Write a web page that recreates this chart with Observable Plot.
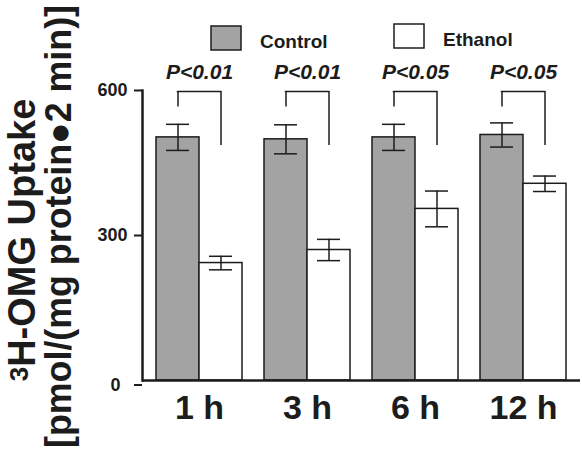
<!DOCTYPE html>
<html>
<head>
<meta charset="utf-8">
<script src="https://cdn.jsdelivr.net/npm/d3@7"></script>
<script src="https://cdn.jsdelivr.net/npm/@observablehq/plot@0.6"></script>
<style>
  html, body { margin: 0; padding: 0; background: #fff; }
  #chart { width: 582px; height: 451px; }
</style>
</head>
<body>
<div id="chart"></div>
<script>
// ---- data ----
const times = ["1 h", "3 h", "6 h", "12 h"];
const series = ["Control", "Ethanol"];
const controlMean = [503, 499, 503, 508];
const controlErr = [27, 30, 27, 25];
const ethanolMean = [243, 270, 355, 407];
const ethanolErr = [14, 22, 37, 16];
const pLabels = ["P<0.01", "P<0.01", "P<0.05", "P<0.05"];
const yTicks = [0, 300, 600];
const yDomain = [0, 600];
// significance bracket levels (data units)
const bracketTop = 598;
const bracketLeftEnd = 566;
const bracketRightEnd = 486;
const pLabelY = 637;
const yTitle1Sup = "3";
const yTitle1 = "H-OMG Uptake";
const yTitle2 = "[pmol/(mg protein\u25CF2 min)]";

const rows = times.map((t, i) => ({
  time: t, c: controlMean[i], ce: controlErr[i], e: ethanolMean[i], ee: ethanolErr[i], p: pLabels[i]
}));

const FONT = "'Liberation Sans', Arial, Helvetica, sans-serif";
const GREY = "#a3a3a3";
const INK = "#1c1c1c";

const base = {
  width: 582, height: 451,
  marginLeft: 142, marginRight: 2, marginTop: 90, marginBottom: 71,
  style: { fontFamily: FONT, background: "#fff", color: INK },
  x: { type: "band", domain: times, paddingInner: 0.2, paddingOuter: 0.114, axis: null },
  y: { domain: yDomain, axis: null }
};

// probe to get the band width from the library's own scale
const probe = Plot.plot({ ...base, marks: [Plot.barY(rows, { x: "time", y: "c" })] });
const bw = probe.scale("x").bandwidth;
const cap = 11.5;

const plot = Plot.plot({
  ...base,
  marks: [
    // bars
    Plot.barY(rows, { x: "time", y: "c", insetRight: bw / 2, fill: GREY, stroke: INK, strokeWidth: 1.5 }),
    Plot.barY(rows, { x: "time", y: "e", insetLeft: bw / 2, fill: "#fff", stroke: INK, strokeWidth: 1.5 }),
    // error bars (control)
    Plot.ruleX(rows, { x: "time", y1: d => d.c - d.ce, y2: d => d.c + d.ce, dx: -bw / 4, stroke: INK, strokeWidth: 1.5 }),
    Plot.tickY(rows, { x: "time", y: d => d.c + d.ce, insetLeft: bw / 4 - cap, insetRight: 3 * bw / 4 - cap, stroke: INK, strokeWidth: 1.5 }),
    Plot.tickY(rows, { x: "time", y: d => d.c - d.ce, insetLeft: bw / 4 - cap, insetRight: 3 * bw / 4 - cap, stroke: INK, strokeWidth: 1.5 }),
    // error bars (ethanol)
    Plot.ruleX(rows, { x: "time", y1: d => d.e - d.ee, y2: d => d.e + d.ee, dx: bw / 4, stroke: INK, strokeWidth: 1.5 }),
    Plot.tickY(rows, { x: "time", y: d => d.e + d.ee, insetLeft: 3 * bw / 4 - cap, insetRight: bw / 4 - cap, stroke: INK, strokeWidth: 1.5 }),
    Plot.tickY(rows, { x: "time", y: d => d.e - d.ee, insetLeft: 3 * bw / 4 - cap, insetRight: bw / 4 - cap, stroke: INK, strokeWidth: 1.5 }),
    // significance brackets
    Plot.ruleX(rows, { x: "time", y1: bracketLeftEnd, y2: bracketTop, dx: -bw / 4, stroke: INK, strokeWidth: 1.5 }),
    Plot.ruleX(rows, { x: "time", y1: bracketRightEnd, y2: bracketTop, dx: bw / 4, stroke: INK, strokeWidth: 1.5 }),
    Plot.tickY(rows, { x: "time", y: bracketTop, insetLeft: bw / 4 - 0.75, insetRight: bw / 4 - 0.75, stroke: INK, strokeWidth: 1.5 }),
    Plot.text(rows, { x: "time", y: pLabelY, text: "p", fontSize: 21, fontWeight: "bold", fontStyle: "italic", fill: INK }),
    // axes
    Plot.frame({ anchor: "left", stroke: INK, strokeWidth: 2.5 }),
    Plot.ruleY([0], { stroke: INK, strokeWidth: 2.5 }),
    Plot.axisY(yTicks.filter(v => v !== 0), { tickSize: 8, tickPadding: 7, fontSize: 18, fontWeight: "bold", stroke: INK, strokeWidth: 2, fill: INK, label: null }),
    Plot.axisY(yTicks.filter(v => v === 0), { tickSize: 8, tickPadding: 14, dy: 4.5, fontSize: 18, fontWeight: "bold", stroke: INK, strokeWidth: 2, fill: INK, label: null }),
    Plot.axisX({ tickSize: 0, tickPadding: 14, fontSize: 34, fontWeight: "bold", fill: INK, label: null })
  ]
});

document.getElementById("chart").appendChild(plot);
const svg = d3.select(plot);

// ---- legend (drawn into the same svg) ----
const legend = svg.append("g").attr("font-family", FONT).attr("font-weight", "bold")
  .attr("font-size", 19).attr("fill", INK).attr("text-anchor", "start");
const legendItems = [
  { name: series[0], fill: GREY, x: 211, y: 26 },
  { name: series[1], fill: "#fff", x: 394, y: 24 }
];
legendItems.forEach(it => {
  legend.append("rect").attr("x", it.x).attr("y", it.y).attr("width", 30).attr("height", 24)
    .attr("fill", it.fill).attr("stroke", INK).attr("stroke-width", 1.5);
  legend.append("text").attr("x", it.x + 49).attr("y", it.y + 22).attr("text-anchor", "start").text(it.name);
});

// ---- y axis title (two lines, rotated) ----
const yt = svg.append("g").attr("font-family", FONT).attr("font-weight", "bold").attr("fill", INK);
const t1 = yt.append("text").attr("transform", "translate(34.5,240) rotate(-90)")
  .attr("text-anchor", "middle").attr("font-size", 38);
t1.append("tspan").attr("font-size", 26).attr("dy", -7).text(yTitle1Sup);
t1.append("tspan").attr("dy", 7).text(yTitle1);
yt.append("text").attr("transform", "translate(71,226.5) rotate(-90)")
  .attr("text-anchor", "middle").attr("font-size", 36)
  .attr("textLength", 443).attr("lengthAdjust", "spacingAndGlyphs")
  .text(yTitle2);
</script>
</body>
</html>
